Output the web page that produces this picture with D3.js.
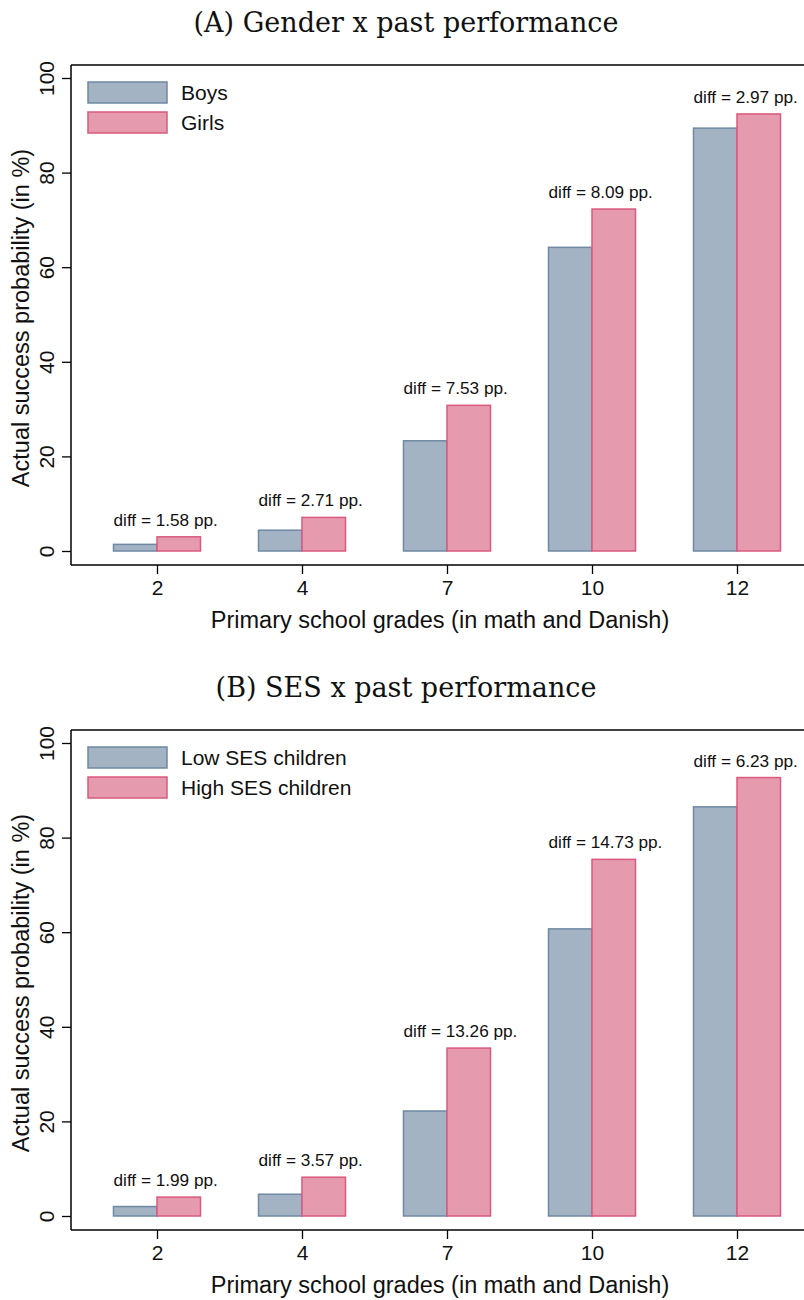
<!DOCTYPE html>
<html>
<head>
<meta charset="utf-8">
<script src="https://cdn.jsdelivr.net/npm/d3@7"></script>
<style>
  html, body { margin: 0; padding: 0; background: #fff; }
  svg { display: block; }
  .sans { font-family: "Liberation Sans", Arial, Helvetica, sans-serif; }
  .serif { font-family: "DejaVu Serif", Georgia, serif; }
</style>
</head>
<body>
<svg id="chart" width="804" height="1300"></svg>
<script>
// ---- Data ----
const grades = ["2", "4", "7", "10", "12"];
const yTicks = [0, 20, 40, 60, 80, 100];

const titleA = "(A) Gender x past performance";
const seriesA = ["Boys", "Girls"];
const boys = [1.4, 4.4, 23.3, 64.2, 89.4];
const girls = [3.0, 7.1, 30.8, 72.3, 92.4];
const diffA = ["1.58", "2.71", "7.53", "8.09", "2.97"];

const titleB = "(B) SES x past performance";
const seriesB = ["Low SES children", "High SES children"];
const lowSES = [2.0, 4.6, 22.2, 60.7, 86.5];
const highSES = [4.0, 8.2, 35.5, 75.4, 92.7];
const diffB = ["1.99", "3.57", "13.26", "14.73", "6.23"];

const xTitle = "Primary school grades (in math and Danish)";
const yTitle = "Actual success probability (in %)";

// ---- Styles ----
const fills = ["#a3b3c3", "#e69aad"];
const strokes = ["#6f89a3", "#d95a7e"];

const svg = d3.select("#chart");

function panel(offY, title, names, s1, s2, diffs) {
  const g = svg.append("g").attr("transform", `translate(0,${offY})`);
  const left = 71, right = 804, top = 65, bottom = 565;

  const x = d3.scalePoint().domain(grades).range([157, 737]);
  const sub = d3.scaleBand().domain([0, 1]).range([-43.5, 43.5]);
  const y = d3.scaleLinear().domain([0, 100]).range([551, 78]);

  // title
  g.append("text").attr("class", "serif")
    .attr("x", 406).attr("y", 22)
    .attr("text-anchor", "middle").attr("dominant-baseline", "central")
    .attr("font-size", 27).attr("fill", "#111")
    .text(title);

  // frame top line
  g.append("line").attr("x1", left).attr("x2", right).attr("y1", top).attr("y2", top)
    .attr("stroke", "#000").attr("stroke-width", 1.5);

  // y axis
  const ya = g.append("g").attr("transform", `translate(${left},0)`)
    .call(d3.axisLeft(y).tickValues(yTicks).tickSize(9).tickPadding(0).tickSizeOuter(0));
  ya.select(".domain").attr("d", `M0,${top}V${bottom}`).attr("stroke-width", 1.5);
  ya.selectAll(".tick line").attr("stroke-width", 1.3);
  ya.selectAll(".tick text")
    .attr("class", "sans")
    .attr("font-size", 21).attr("fill", "#111")
    .attr("text-anchor", "middle")
    .attr("x", null).attr("dy", null)
    .attr("transform", "translate(-25,0) rotate(-90)")
    .attr("dominant-baseline", "central");

  // x axis
  const xa = g.append("g").attr("transform", `translate(0,${bottom})`)
    .call(d3.axisBottom(x).tickSize(9).tickPadding(6).tickSizeOuter(0));
  xa.select(".domain").attr("d", `M${left},0H${right}`).attr("stroke-width", 1.5);
  xa.selectAll(".tick line").attr("stroke-width", 1.3);
  xa.selectAll(".tick text").attr("class", "sans").attr("font-size", 21).attr("fill", "#111");

  // axis titles
  g.append("text").attr("class", "sans")
    .attr("x", 440).attr("y", 620)
    .attr("text-anchor", "middle").attr("dominant-baseline", "central")
    .attr("font-size", 23.5).attr("fill", "#111").text(xTitle);
  g.append("text").attr("class", "sans")
    .attr("transform", `translate(21,${(top + bottom) / 2 + 3}) rotate(-90)`)
    .attr("text-anchor", "middle").attr("dominant-baseline", "central")
    .attr("font-size", 23.5).attr("fill", "#111").text(yTitle);

  // bars
  const rows = grades.map((gr, i) => ({ gr, vals: [s1[i], s2[i]], diff: diffs[i] }));
  const grp = g.append("g").selectAll("g").data(rows).join("g")
    .attr("transform", d => `translate(${x(d.gr)},0)`);
  grp.selectAll("rect").data(d => d.vals).join("rect")
    .attr("x", (v, j) => sub(j))
    .attr("width", sub.bandwidth())
    .attr("y", v => y(v))
    .attr("height", v => y(0) - y(v))
    .attr("fill", (v, j) => fills[j])
    .attr("stroke", (v, j) => strokes[j])
    .attr("stroke-width", 1.5);
  grp.append("text").attr("class", "sans")
    .attr("x", sub(0))
    .attr("y", d => y(Math.max(...d.vals)) - 17)
    .attr("dominant-baseline", "central")
    .attr("font-size", 17.2).attr("fill", "#111")
    .text(d => `diff = ${d.diff} pp.`);

  // legend
  const lg = g.append("g");
  names.forEach((n, j) => {
    const yy = 82 + j * 30;
    lg.append("rect").attr("x", 88).attr("y", yy).attr("width", 79).attr("height", 21)
      .attr("fill", fills[j]).attr("stroke", strokes[j]).attr("stroke-width", 1.5);
    lg.append("text").attr("class", "sans")
      .attr("x", 181).attr("y", yy + 10.5)
      .attr("dominant-baseline", "central")
      .attr("font-size", 21).attr("fill", "#111").text(n);
  });
}

panel(0, titleA, seriesA, boys, girls, diffA);
panel(665, titleB, seriesB, lowSES, highSES, diffB);
</script>
</body>
</html>
